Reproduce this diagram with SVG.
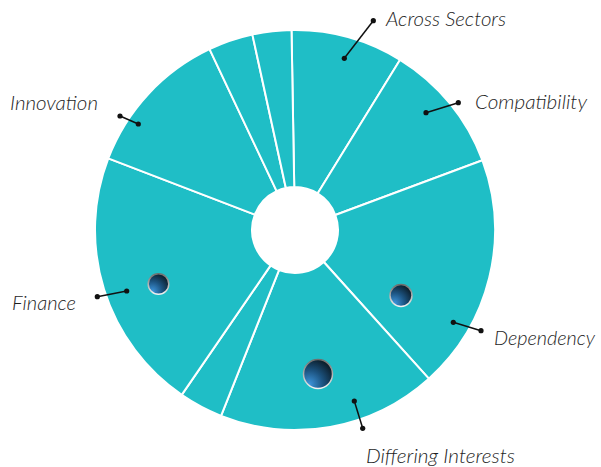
<svg xmlns="http://www.w3.org/2000/svg" width="601" height="467" viewBox="0 0 601 467">
<style>
.seg{fill:#1FBEC6;stroke:#FFFFFF;stroke-width:2;stroke-linejoin:round}
.lbl{font-family:Lato,"Open Sans","Noto Sans","DejaVu Sans",sans-serif;font-style:italic;font-weight:300;font-size:20px;fill:#1E1E1E}
.lead{stroke:#111;stroke-width:1.5;fill:none}
.dot{fill:#111}
.rim{fill:url(#ballG);stroke:url(#rimG);stroke-width:1.5}
</style>
<defs>
<radialGradient id="ballG" cx="0.2" cy="0.85" r="0.95" fx="0.2" fy="0.85">
<stop offset="0" stop-color="#3E95DC"/>
<stop offset="0.5" stop-color="#1C5380"/>
<stop offset="1" stop-color="#0A1923"/>
</radialGradient>
<linearGradient id="rimG" x1="0" y1="0" x2="0" y2="1">
<stop offset="0" stop-color="#6E6E6E"/>
<stop offset="1" stop-color="#F2F2F2"/>
</linearGradient>
</defs>
<g id="segments">
<g id="seg-across-sectors"><path class="seg" d="M291.51,30.03 A200,200 0 0 1 400.09,59.84 L317.60,193.42 A43,43 0 0 0 294.25,187.01 Z"/></g>
<g id="seg-compatibility"><path class="seg" d="M400.09,59.84 A200,200 0 0 1 482.46,160.29 L335.30,215.01 A43,43 0 0 0 317.60,193.42 Z"/></g>
<g id="seg-dependency"><path class="seg" d="M482.46,160.29 A200,200 0 0 1 428.83,378.63 L323.77,261.96 A43,43 0 0 0 335.30,215.01 Z"/></g>
<g id="seg-differing-interests"><path class="seg" d="M428.83,378.63 A200,200 0 0 1 221.05,415.83 L279.10,269.95 A43,43 0 0 0 323.77,261.96 Z"/></g>
<g id="seg-small-1"><path class="seg" d="M221.05,415.83 A200,200 0 0 1 181.72,394.83 L270.64,265.44 A43,43 0 0 0 279.10,269.95 Z"/></g>
<g id="seg-finance"><path class="seg" d="M181.72,394.83 A200,200 0 0 1 108.28,158.33 L254.86,214.59 A43,43 0 0 0 270.64,265.44 Z"/></g>
<g id="seg-innovation"><path class="seg" d="M108.28,158.33 A200,200 0 0 1 209.53,49.18 L276.62,191.12 A43,43 0 0 0 254.86,214.59 Z"/></g>
<g id="seg-small-2"><path class="seg" d="M209.53,49.18 A200,200 0 0 1 252.39,34.59 L285.84,187.99 A43,43 0 0 0 276.62,191.12 Z"/></g>
<g id="seg-small-3"><path class="seg" d="M252.39,34.59 A200,200 0 0 1 291.51,30.03 L294.25,187.01 A43,43 0 0 0 285.84,187.99 Z"/></g>
</g>
<g id="bubbles">
<circle class="rim" cx="158.5" cy="284" r="10.3"/>
<circle class="rim" cx="318" cy="374" r="14.5"/>
<circle class="rim" cx="401" cy="295.5" r="11"/>
</g>
<g id="connectors">
<line class="lead" x1="344.3" y1="58.3" x2="373.3" y2="20.7"/>
<circle class="dot" cx="344.3" cy="58.3" r="2.6"/><circle class="dot" cx="373.3" cy="20.7" r="2.6"/>
<line class="lead" x1="426" y1="112.7" x2="458.3" y2="102.7"/>
<circle class="dot" cx="426" cy="112.7" r="2.6"/><circle class="dot" cx="458.3" cy="102.7" r="2.6"/>
<line class="lead" x1="453.3" y1="322.3" x2="481" y2="330.7"/>
<circle class="dot" cx="453.3" cy="322.3" r="2.6"/><circle class="dot" cx="481" cy="330.7" r="2.6"/>
<line class="lead" x1="354.3" y1="401" x2="362.7" y2="428.3"/>
<circle class="dot" cx="354.3" cy="401" r="2.6"/><circle class="dot" cx="362.7" cy="428.3" r="2.6"/>
<line class="lead" x1="126.7" y1="291" x2="97.3" y2="296.7"/>
<circle class="dot" cx="126.7" cy="291" r="2.6"/><circle class="dot" cx="97.3" cy="296.7" r="2.6"/>
<line class="lead" x1="138.3" y1="124" x2="120" y2="116"/>
<circle class="dot" cx="138.3" cy="124" r="2.6"/><circle class="dot" cx="120" cy="116" r="2.6"/>
</g>
<g id="labels">
<text class="lbl" x="386" y="26" textLength="120" lengthAdjust="spacingAndGlyphs">Across Sectors</text>
<text class="lbl" x="475" y="108.5" textLength="112" lengthAdjust="spacingAndGlyphs">Compatibility</text>
<text class="lbl" x="494" y="345" textLength="101" lengthAdjust="spacingAndGlyphs">Dependency</text>
<text class="lbl" x="366" y="463" textLength="149" lengthAdjust="spacingAndGlyphs">Differing Interests</text>
<text class="lbl" x="12" y="309.5" textLength="64" lengthAdjust="spacingAndGlyphs">Finance</text>
<text class="lbl" x="10" y="109.5" textLength="88" lengthAdjust="spacingAndGlyphs">Innovation</text>
</g>
</svg>
